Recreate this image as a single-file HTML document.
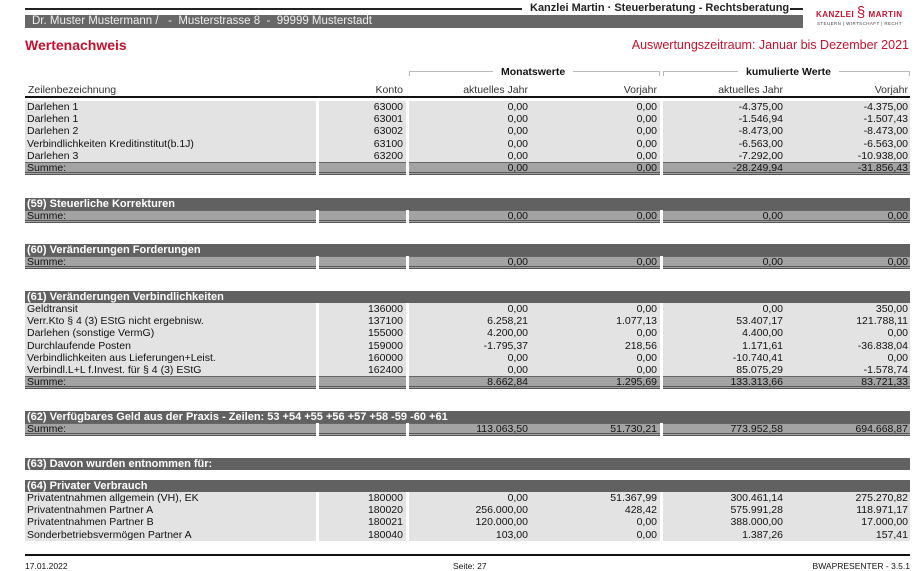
<!DOCTYPE html>
<html><head><meta charset="utf-8">
<style>
*{margin:0;padding:0;box-sizing:border-box}
body{width:920px;height:570px;background:#fff;position:relative;overflow:hidden;font-family:"Liberation Sans",Arial,sans-serif;font-size:10.5px;color:#111}
.a{position:absolute}
.blk{position:absolute;left:25px;width:885px}
.r{position:relative;height:12.2px;line-height:12.2px}
.c{position:absolute;top:0;height:100%;background:#e3e3e3}
.c0{left:0;width:291px;padding-left:2px}
.c1{left:294px;width:87px}
.c2{left:384px;width:251px}
.c3{left:638px;width:247px}
.v{position:absolute;top:0;text-align:right;white-space:nowrap}
.k{right:3px}
.m1{right:132px}.m2{right:3px}
.k1{right:127px}.k2{right:2px}
.s .c{background:#a3a3a3;border-top:1px solid #666;border-bottom:3px double #555;line-height:11px}
.s{height:13px}
.h{height:12px;line-height:12px;background:#616161;color:#fff;font-weight:bold;padding-left:2px;font-size:11px}
</style></head><body>
<div class="a" style="left:25px;top:8px;width:497px;height:2px;background:#222"></div>
<div class="a" style="left:530px;top:2px;font-size:11px;font-weight:bold;color:#222">Kanzlei Martin · Steuerberatung - Rechtsberatung</div>
<div class="a" style="left:790px;top:8px;width:13px;height:2px;background:#222"></div>
<div class="a" style="left:25px;top:15px;width:778px;height:13px;background:#676767;color:#eee;font-size:11.5px;line-height:13px;padding-left:7px">Dr. Muster Mustermann /&nbsp;&nbsp; -&nbsp; Musterstrasse 8&nbsp; -&nbsp; 99999 Musterstadt</div>
<div class="a" style="left:816px;top:4px;font-size:8px;font-weight:bold;color:#c8102e;letter-spacing:.5px">KANZLEI <span style="font-size:15px;font-weight:normal">§</span> MARTIN</div>
<div class="a" style="left:817px;top:21px;font-size:4.5px;color:#444;letter-spacing:.4px">STEUERN | WIRTSCHAFT | RECHT</div>
<div class="a" style="left:25px;top:37px;font-size:14px;font-weight:bold;color:#c8102e">Wertenachweis</div>
<div class="a" style="right:11px;top:38px;font-size:12.5px;color:#c8102e">Auswertungszeitraum: Januar bis Dezember 2021</div>

<div class="a" style="left:409px;top:71px;width:251px;height:5px;border-top:1px solid #bbb;border-left:1px solid #bbb;border-right:1px solid #bbb"></div>
<div class="a" style="left:493px;top:66px;background:#fff;padding:0 8px;font-weight:bold;font-size:10.5px">Monatswerte</div>
<div class="a" style="left:663px;top:71px;width:247px;height:5px;border-top:1px solid #bbb;border-left:1px solid #bbb;border-right:1px solid #bbb"></div>
<div class="a" style="left:738px;top:66px;background:#fff;padding:0 8px;font-weight:bold;font-size:10.5px">kumulierte Werte</div>

<div class="a" style="left:28px;top:84px;color:#333">Zeilenbezeichnung</div>
<div class="a" style="right:517px;top:84px;color:#333">Konto</div>
<div class="a" style="right:392px;top:84px;color:#333">aktuelles Jahr</div>
<div class="a" style="right:263px;top:84px;color:#333">Vorjahr</div>
<div class="a" style="right:137px;top:84px;color:#333">aktuelles Jahr</div>
<div class="a" style="right:12px;top:84px;color:#333">Vorjahr</div>
<div class="a" style="left:25px;top:96px;width:885px;height:2px;background:#111"></div>

<div class="blk" style="top:101px">
<div class="r"><div class="c c0">Darlehen 1</div><div class="c c1"><span class="v k">63000</span></div><div class="c c2"><span class="v m1">0,00</span><span class="v m2">0,00</span></div><div class="c c3"><span class="v k1">-4.375,00</span><span class="v k2">-4.375,00</span></div></div>
<div class="r"><div class="c c0">Darlehen 1</div><div class="c c1"><span class="v k">63001</span></div><div class="c c2"><span class="v m1">0,00</span><span class="v m2">0,00</span></div><div class="c c3"><span class="v k1">-1.546,94</span><span class="v k2">-1.507,43</span></div></div>
<div class="r"><div class="c c0">Darlehen 2</div><div class="c c1"><span class="v k">63002</span></div><div class="c c2"><span class="v m1">0,00</span><span class="v m2">0,00</span></div><div class="c c3"><span class="v k1">-8.473,00</span><span class="v k2">-8.473,00</span></div></div>
<div class="r"><div class="c c0">Verbindlichkeiten Kreditinstitut(b.1J)</div><div class="c c1"><span class="v k">63100</span></div><div class="c c2"><span class="v m1">0,00</span><span class="v m2">0,00</span></div><div class="c c3"><span class="v k1">-6.563,00</span><span class="v k2">-6.563,00</span></div></div>
<div class="r"><div class="c c0">Darlehen 3</div><div class="c c1"><span class="v k">63200</span></div><div class="c c2"><span class="v m1">0,00</span><span class="v m2">0,00</span></div><div class="c c3"><span class="v k1">-7.292,00</span><span class="v k2">-10.938,00</span></div></div>
<div class="r s"><div class="c c0">Summe:</div><div class="c c1"></div><div class="c c2"><span class="v m1">0,00</span><span class="v m2">0,00</span></div><div class="c c3"><span class="v k1">-28.249,94</span><span class="v k2">-31.856,43</span></div></div>
</div>

<div class="blk" style="top:198px">
<div class="h">(59) Steuerliche Korrekturen</div>
<div class="r s"><div class="c c0">Summe:</div><div class="c c1"></div><div class="c c2"><span class="v m1">0,00</span><span class="v m2">0,00</span></div><div class="c c3"><span class="v k1">0,00</span><span class="v k2">0,00</span></div></div>
</div>

<div class="blk" style="top:244px">
<div class="h">(60) Veränderungen Forderungen</div>
<div class="r s"><div class="c c0">Summe:</div><div class="c c1"></div><div class="c c2"><span class="v m1">0,00</span><span class="v m2">0,00</span></div><div class="c c3"><span class="v k1">0,00</span><span class="v k2">0,00</span></div></div>
</div>

<div class="blk" style="top:291px">
<div class="h">(61) Veränderungen Verbindlichkeiten</div>
<div class="r"><div class="c c0">Geldtransit</div><div class="c c1"><span class="v k">136000</span></div><div class="c c2"><span class="v m1">0,00</span><span class="v m2">0,00</span></div><div class="c c3"><span class="v k1">0,00</span><span class="v k2">350,00</span></div></div>
<div class="r"><div class="c c0">Verr.Kto § 4 (3) EStG nicht ergebnisw.</div><div class="c c1"><span class="v k">137100</span></div><div class="c c2"><span class="v m1">6.258,21</span><span class="v m2">1.077,13</span></div><div class="c c3"><span class="v k1">53.407,17</span><span class="v k2">121.788,11</span></div></div>
<div class="r"><div class="c c0">Darlehen (sonstige VermG)</div><div class="c c1"><span class="v k">155000</span></div><div class="c c2"><span class="v m1">4.200,00</span><span class="v m2">0,00</span></div><div class="c c3"><span class="v k1">4.400,00</span><span class="v k2">0,00</span></div></div>
<div class="r"><div class="c c0">Durchlaufende Posten</div><div class="c c1"><span class="v k">159000</span></div><div class="c c2"><span class="v m1">-1.795,37</span><span class="v m2">218,56</span></div><div class="c c3"><span class="v k1">1.171,61</span><span class="v k2">-36.838,04</span></div></div>
<div class="r"><div class="c c0">Verbindlichkeiten aus Lieferungen+Leist.</div><div class="c c1"><span class="v k">160000</span></div><div class="c c2"><span class="v m1">0,00</span><span class="v m2">0,00</span></div><div class="c c3"><span class="v k1">-10.740,41</span><span class="v k2">0,00</span></div></div>
<div class="r"><div class="c c0">Verbindl.L+L f.Invest. für § 4 (3) EStG</div><div class="c c1"><span class="v k">162400</span></div><div class="c c2"><span class="v m1">0,00</span><span class="v m2">0,00</span></div><div class="c c3"><span class="v k1">85.075,29</span><span class="v k2">-1.578,74</span></div></div>
<div class="r s"><div class="c c0">Summe:</div><div class="c c1"></div><div class="c c2"><span class="v m1">8.662,84</span><span class="v m2">1.295,69</span></div><div class="c c3"><span class="v k1">133.313,66</span><span class="v k2">83.721,33</span></div></div>
</div>

<div class="blk" style="top:411px">
<div class="h">(62) Verfügbares Geld aus der Praxis - Zeilen: 53 +54 +55 +56 +57 +58 -59 -60 +61</div>
<div class="r s"><div class="c c0">Summe:</div><div class="c c1"></div><div class="c c2"><span class="v m1">113.063,50</span><span class="v m2">51.730,21</span></div><div class="c c3"><span class="v k1">773.952,58</span><span class="v k2">694.668,87</span></div></div>
</div>

<div class="blk" style="top:458px">
<div class="h">(63) Davon wurden entnommen für:</div>
</div>

<div class="blk" style="top:480px">
<div class="h">(64) Privater Verbrauch</div>
<div class="r"><div class="c c0">Privatentnahmen allgemein (VH), EK</div><div class="c c1"><span class="v k">180000</span></div><div class="c c2"><span class="v m1">0,00</span><span class="v m2">51.367,99</span></div><div class="c c3"><span class="v k1">300.461,14</span><span class="v k2">275.270,82</span></div></div>
<div class="r"><div class="c c0">Privatentnahmen Partner A</div><div class="c c1"><span class="v k">180020</span></div><div class="c c2"><span class="v m1">256.000,00</span><span class="v m2">428,42</span></div><div class="c c3"><span class="v k1">575.991,28</span><span class="v k2">118.971,17</span></div></div>
<div class="r"><div class="c c0">Privatentnahmen Partner B</div><div class="c c1"><span class="v k">180021</span></div><div class="c c2"><span class="v m1">120.000,00</span><span class="v m2">0,00</span></div><div class="c c3"><span class="v k1">388.000,00</span><span class="v k2">17.000,00</span></div></div>
<div class="r"><div class="c c0">Sonderbetriebsvermögen Partner A</div><div class="c c1"><span class="v k">180040</span></div><div class="c c2"><span class="v m1">103,00</span><span class="v m2">0,00</span></div><div class="c c3"><span class="v k1">1.387,26</span><span class="v k2">157,41</span></div></div>
</div>

<div class="a" style="left:25px;top:554px;width:885px;height:2px;background:#111"></div>
<div class="a" style="left:25px;top:561px;font-size:8.5px">17.01.2022</div>
<div class="a" style="left:453px;top:561px;font-size:8.5px">Seite: 27</div>
<div class="a" style="right:10px;top:561px;font-size:8.5px">BWAPRESENTER - 3.5.1</div>
</body></html>
